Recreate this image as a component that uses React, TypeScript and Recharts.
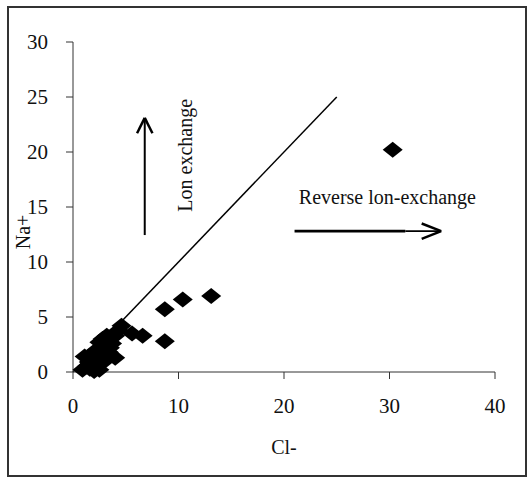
import React from 'react';
import { ScatterChart, Scatter, XAxis, YAxis, ReferenceLine, ReferenceDot } from 'recharts';

// Cl- (x) and Na+ (y) values for each sample
const clValues = [
  30.3, 13.1, 10.4, 8.7, 8.7, 6.6, 5.6, 4.6,
  4.3, 4.0, 3.7, 3.2, 2.8, 2.5, 3.0, 2.2, 1.9, 1.5, 1.1, 2.5,
  1.8, 4.0, 0.9, 2.0, 2.5, 2.3, 3.4, 1.3,
  1.5, 2.0, 2.8, 3.5, 1.6, 3.0,
];
const naValues = [
  20.2, 6.9, 6.6, 5.7, 2.8, 3.3, 3.5, 4.2,
  3.8, 3.3, 2.6, 3.3, 3.0, 2.7, 2.2, 2.0, 1.6, 1.4, 1.4, 1.2,
  0.8, 1.3, 0.2, 0.1, 0.2, 0.6, 1.8, 0.5,
  0.9, 1.3, 1.6, 2.2, 0.3, 1.0,
];

const xTicks = [0, 10, 20, 30, 40];
const yTicks = [0, 5, 10, 15, 20, 25, 30];

const points = clValues.map((cl, i) => ({ cl, na: naValues[i] }));

const FONT = 'Liberation Serif, Times New Roman, serif';
const INK = '#111';

const Diamond = (props: any) => {
  const { cx, cy } = props;
  if (cx == null || cy == null) return null;
  return <path d={`M${cx},${cy - 8}L${cx + 10},${cy}L${cx},${cy + 8}L${cx - 10},${cy}Z`} fill="#000" />;
};

const tickStyle = { fontSize: 21, fontFamily: FONT, fill: INK };
const textStyle = { fontSize: 20, fontFamily: FONT, fill: INK };

export default function App() {
  return (
    <div style={{ position: 'absolute', left: 0, top: 0, width: 531, height: 480, background: '#fff' }}>
      <div
        style={{
          position: 'absolute',
          left: 7,
          top: 6,
          width: 520,
          height: 471,
          border: '2px solid #333',
          boxSizing: 'border-box',
        }}
      />
      <div style={{ position: 'absolute', left: 0, top: 0 }}>
        <ScatterChart width={531} height={480} margin={{ top: 42, right: 36, bottom: 48, left: 0 }}>
          <XAxis
            type="number"
            dataKey="cl"
            domain={[0, 40]}
            ticks={xTicks}
            interval={0}
            height={60}
            tickSize={7}
            tickMargin={19}
            axisLine={{ stroke: '#333' }}
            tickLine={{ stroke: '#333' }}
            tick={tickStyle}
            label={{ value: 'Cl-', position: 'bottom', offset: 8, style: textStyle }}
          />
          <YAxis
            type="number"
            dataKey="na"
            domain={[0, 30]}
            ticks={yTicks}
            interval={0}
            width={73}
            tickSize={7}
            tickMargin={18}
            axisLine={{ stroke: '#333' }}
            tickLine={{ stroke: '#333' }}
            tick={tickStyle}
            label={{ value: 'Na+', angle: -90, position: 'center', dx: -14, dy: 25, style: textStyle }}
          />
          <ReferenceLine segment={[{ x: 0, y: 0 }, { x: 25, y: 25 }]} stroke="#000" strokeWidth={1.5} />

          {/* up arrow */}
          <ReferenceLine segment={[{ x: 6.8, y: 12.45 }, { x: 6.8, y: 23.1 }]} stroke="#000" strokeWidth={2} />
          <ReferenceLine segment={[{ x: 6.07, y: 21.7 }, { x: 6.8, y: 23.1 }]} stroke="#000" strokeWidth={2.5} />
          <ReferenceLine segment={[{ x: 7.53, y: 21.7 }, { x: 6.8, y: 23.1 }]} stroke="#000" strokeWidth={2.5} />

          {/* right arrow */}
          <ReferenceLine segment={[{ x: 21.0, y: 12.8 }, { x: 31.5, y: 12.8 }]} stroke="#000" strokeWidth={2.8} />
          <ReferenceLine segment={[{ x: 31.5, y: 12.8 }, { x: 34.9, y: 12.8 }]} stroke="#000" strokeWidth={1.8} />
          <ReferenceLine segment={[{ x: 33.05, y: 13.5 }, { x: 34.9, y: 12.8 }]} stroke="#000" strokeWidth={2.5} />
          <ReferenceLine segment={[{ x: 33.05, y: 12.1 }, { x: 34.9, y: 12.8 }]} stroke="#000" strokeWidth={2.5} />

          <ReferenceDot
            x={10.6}
            y={19.7}
            r={0}
            fill="none"
            stroke="none"
            label={{ value: 'Lon exchange', position: 'center', angle: -90, style: textStyle }}
          />
          <ReferenceDot
            x={29.8}
            y={15.9}
            r={0}
            fill="none"
            stroke="none"
            label={{ value: 'Reverse lon-exchange', position: 'center', style: textStyle }}
          />

          <Scatter data={points} shape={Diamond} isAnimationActive={false} />
        </ScatterChart>
      </div>
    </div>
  );
}
